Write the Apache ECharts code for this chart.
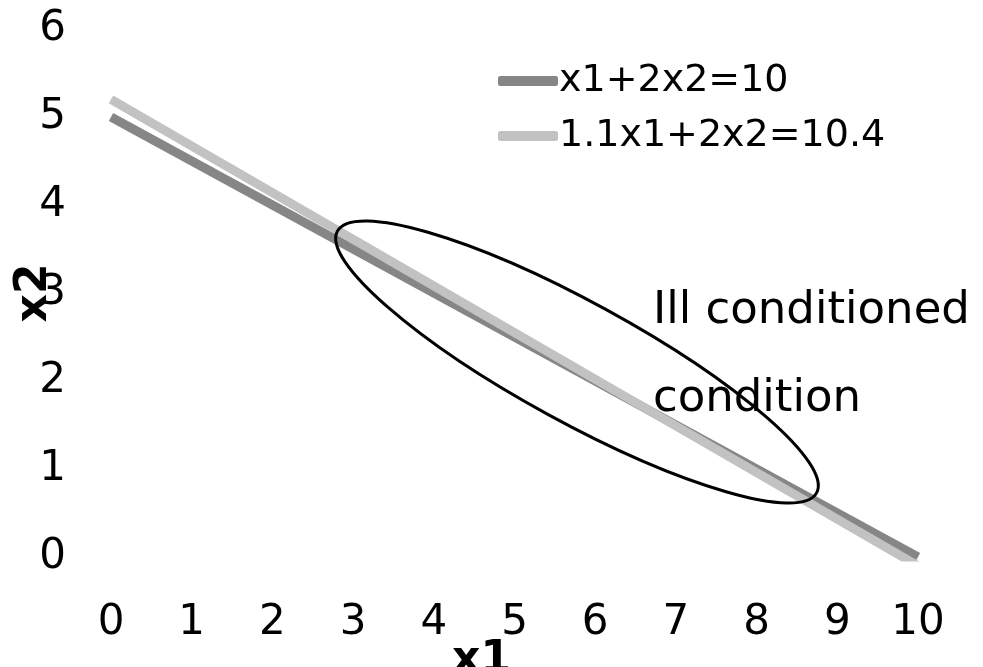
<!DOCTYPE html>
<html>
<head>
<meta charset="utf-8">
<script src="https://cdn.jsdelivr.net/npm/echarts@6/dist/echarts.min.js"></script>
<style>
  html, body { margin: 0; padding: 0; background: #fff; }
  #chart { width: 983px; height: 667px; }
</style>
</head>
<body>
<div id="chart"></div>
<script>
// values
const x1Values = [0, 10];
const line1Name = 'x1+2x2=10';
const line1Values = [5, 0];
const line2Name = '1.1x1+2x2=10.4';
const line2Values = [5.2, -0.1];
const noteLines = ['Ill conditioned', 'condition'];

const font = 'DejaVu Sans';
const zip = (xs, ys) => xs.map((x, i) => [x, ys[i]]);

const myChart = echarts.init(document.getElementById('chart'));
myChart.setOption({
  animation: false,
  backgroundColor: '#fff',
  textStyle: { fontFamily: font },
  grid: { left: 111, right: 65, top: 29, bottom: 110, outerBoundsMode: 'none', containLabel: false },
  legend: {
    orient: 'vertical',
    left: 493,
    top: 57,
    itemGap: 17,
    itemWidth: 60,
    itemHeight: 10,
    icon: 'roundRect',
    textStyle: { fontSize: 38, color: '#000', fontFamily: font, padding: [0, 0, 0, -4] },
    data: [line1Name, line2Name]
  },
  xAxis: {
    type: 'value',
    min: 0,
    max: 10,
    interval: 1,
    name: 'x1',
    nameLocation: 'middle',
    nameGap: 82,
    nameMoveOverlap: false,
    nameTextStyle: { fontSize: 44, fontWeight: 'bold', color: '#000', padding: [0, 66, 0, 0] },
    axisLine: { show: false },
    axisTick: { show: false },
    splitLine: { show: false },
    axisLabel: { fontSize: 42, color: '#000', margin: 45 }
  },
  yAxis: {
    type: 'value',
    min: 0,
    max: 6,
    interval: 1,
    name: 'x2',
    nameLocation: 'middle',
    nameGap: 54,
    nameMoveOverlap: false,
    nameTextStyle: { fontSize: 44, fontWeight: 'bold', color: '#000' },
    axisLine: { show: false },
    axisTick: { show: false },
    splitLine: { show: false },
    axisLabel: { fontSize: 42, color: '#000', margin: 45 }
  },
  series: [
    {
      name: line1Name,
      type: 'line',
      symbol: 'none',
      color: '#868686',
      lineStyle: { width: 9, color: '#868686', cap: 'butt' },
      data: zip(x1Values, line1Values)
    },
    {
      name: line2Name,
      type: 'line',
      symbol: 'none',
      color: '#c2c2c2',
      lineStyle: { width: 9, color: '#c2c2c2', cap: 'butt' },
      data: zip(x1Values, line2Values)
    }
  ],
  graphic: [
    {
      type: 'ellipse',
      x: 577,
      y: 362,
      rotation: -0.5,
      shape: { cx: 0, cy: 0, rx: 273, ry: 60 },
      style: { fill: 'none', stroke: '#000', lineWidth: 3 },
      z: 10
    },
    {
      type: 'text',
      left: 653,
      top: 289,
      style: { text: noteLines[0], font: '45px "' + font + '"', fill: '#000' },
      z: 11
    },
    {
      type: 'text',
      left: 653,
      top: 377,
      style: { text: noteLines[1], font: '45px "' + font + '"', fill: '#000' },
      z: 11
    }
  ]
});
</script>
</body>
</html>
